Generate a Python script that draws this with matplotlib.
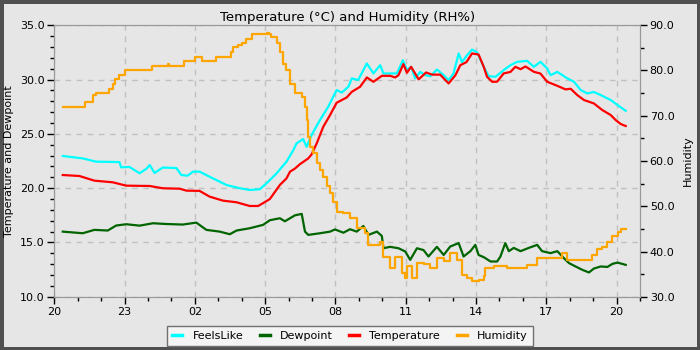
import numpy as np
import matplotlib
matplotlib.use("Agg")
import matplotlib.pyplot as plt
from matplotlib.ticker import MultipleLocator, FixedLocator

# hours since 20:00
hum_t = [0.36, 1.28, 1.30, 1.64, 1.78, 2.32, 2.49, 2.57, 2.78, 3.00, 4.18, 4.85, 4.90,
         5.53, 5.99, 6.32, 6.88, 7.56, 7.63, 7.84, 8.00, 8.17, 8.42, 9.06, 9.16, 9.27,
         9.49, 9.63, 9.77, 9.91, 10.08, 10.27, 10.56, 10.70, 10.77, 10.84, 10.91, 11.05,
         11.20, 11.34, 11.48, 11.63, 11.77, 11.90, 12.05, 12.32, 12.62, 12.91, 13.26,
         13.41, 13.91, 14.05, 14.33, 14.55, 14.84, 14.98, 15.05, 15.26, 15.48, 15.76,
         16.05, 16.33, 16.62, 16.90, 17.19, 17.40, 17.62, 17.83, 18.11, 18.33, 18.40,
         18.76, 19.33, 19.73, 20.18, 20.61, 21.47, 21.68, 21.90, 22.82, 22.97, 23.18,
         23.39, 23.61, 23.82, 24.04, 24.18, 24.39]
humidity = [72.0, 72.0, 73.1, 74.6, 75.1, 76.0, 77.1, 78.2, 79.0, 80.1, 81.0, 81.5, 81.0,
            82.1, 83.0, 82.1, 83.0, 84.1, 85.1, 85.6, 86.0, 86.9, 88.0, 88.3, 88.0, 87.4,
            86.0, 84.1, 81.5, 80.1, 77.1, 75.1, 74.2, 72.0, 69.0, 65.4, 63.2, 61.7,
            59.5, 58.0, 56.5, 54.5, 52.9, 51.0, 48.8, 48.5, 47.4, 45.1, 44.0,
            41.5, 42.2, 38.9, 36.3, 38.9, 35.2, 34.1, 36.7, 34.1, 37.4, 37.2,
            36.3, 38.5, 38.0, 39.6, 38.2, 34.9, 34.1, 33.4, 33.8, 34.5, 36.3,
            36.7, 36.3, 36.3, 37.0, 38.5, 38.5, 39.6, 38.2, 38.2, 39.3, 40.5,
            41.1, 42.2, 43.5, 44.4, 45.0, 45.0]

temp_t = [0.36, 1.07, 1.71, 2.49, 3.07, 4.07, 4.63, 5.35, 5.64, 6.20, 6.63, 7.20, 7.78,
          8.34, 8.70, 8.91, 9.20, 9.63, 9.91, 10.06, 10.27, 10.48, 10.84, 10.98, 11.20,
          11.48, 11.77, 12.05, 12.48, 12.70, 13.05, 13.34, 13.62, 13.98, 14.33, 14.55,
          14.69, 14.90, 15.05, 15.23, 15.55, 15.87, 16.12, 16.47, 16.83, 17.12, 17.33,
          17.59, 17.83, 18.11, 18.33, 18.47, 18.69, 18.90, 19.18, 19.47, 19.68, 19.90,
          20.11, 20.47, 20.75, 21.04, 21.47, 21.82, 22.04, 22.32, 22.61, 23.03, 23.39,
          23.75, 23.96, 24.18, 24.39]
temperature = [21.21, 21.12, 20.69, 20.54, 20.23, 20.20, 19.99, 19.95, 19.77, 19.75, 19.22,
               18.85, 18.70, 18.36, 18.36, 18.62, 19.00, 20.30, 20.90, 21.52, 21.80, 22.20,
               22.74, 23.10, 24.12, 25.65, 26.73, 27.86, 28.35, 28.87, 29.33, 30.19, 29.79,
               30.34, 30.34, 30.19, 30.40, 31.42, 30.62, 31.17, 30.01, 30.65, 30.45, 30.45,
               29.64, 30.40, 31.32, 31.60, 32.40, 32.30, 31.17, 30.25, 29.79, 29.80, 30.56,
               30.70, 31.17, 30.95, 31.20, 30.71, 30.55, 29.79, 29.42, 29.09, 29.15, 28.57,
               28.11, 27.80, 27.19, 26.73, 26.27, 25.90, 25.72]

feels_t = [0.36, 1.21, 1.78, 2.78, 2.85, 3.21, 3.64, 3.94, 4.07, 4.28, 4.63, 5.21, 5.42,
           5.69, 5.92, 6.20, 6.77, 7.35, 7.92, 8.34, 8.77, 9.06, 9.49, 9.91, 10.20, 10.34,
           10.62, 10.77, 10.98, 11.34, 11.69, 12.05, 12.27, 12.55, 12.70, 12.97, 13.34,
           13.62, 13.91, 14.05, 14.33, 14.62, 14.88, 15.05, 15.23, 15.40, 15.62, 15.83,
           16.05, 16.33, 16.62, 16.83, 17.04, 17.26, 17.40, 17.62, 17.83, 18.04, 18.33,
           18.54, 18.83, 19.18, 19.47, 19.76, 20.18, 20.47, 20.75, 21.04, 21.18, 21.47,
           21.90, 22.18, 22.47, 22.75, 23.03, 23.32, 23.75, 24.04, 24.39]
feelslike = [22.96, 22.74, 22.44, 22.40, 21.92, 21.95, 21.37, 21.80, 22.13, 21.40, 21.90,
             21.85, 21.21, 21.15, 21.52, 21.52, 20.90, 20.29, 19.99, 19.83, 19.90, 20.45,
             21.37, 22.44, 23.50, 24.12, 24.52, 23.81, 24.89, 26.27, 27.49, 29.03, 28.80,
             29.33, 30.10, 29.95, 31.48, 30.56, 31.32, 30.56, 30.56, 30.56, 31.78, 30.90,
             31.17, 30.10, 30.70, 30.40, 30.30, 30.92, 30.40, 29.94, 30.56, 32.40, 31.60,
             32.24, 32.76, 32.50, 31.17, 30.31, 30.25, 30.86, 31.32, 31.63, 31.72, 31.17,
             31.63, 31.02, 30.40, 30.70, 30.10, 29.80, 29.03, 28.72, 28.85, 28.57, 28.11,
             27.65, 27.12]

dew_t = [0.36, 1.21, 1.71, 2.28, 2.64, 3.07, 3.64, 4.21, 4.78, 5.49, 6.06, 6.49, 7.06,
         7.49, 7.78, 8.34, 8.91, 9.20, 9.63, 9.84, 10.06, 10.27, 10.56, 10.70, 10.84,
         11.34, 11.77, 11.98, 12.34, 12.62, 12.91, 13.19, 13.41, 13.77, 13.98, 14.05,
         14.33, 14.69, 14.98, 15.19, 15.48, 15.76, 15.97, 16.33, 16.62, 16.90, 17.26,
         17.47, 17.76, 17.97, 18.11, 18.33, 18.62, 18.90, 19.04, 19.25, 19.40, 19.61,
         19.90, 20.25, 20.61, 20.82, 21.18, 21.47, 21.75, 21.97, 22.25, 22.54, 22.82,
         23.03, 23.32, 23.61, 23.82, 24.04, 24.39]
dewpoint = [16.00, 15.85, 16.16, 16.10, 16.56, 16.68, 16.55, 16.77, 16.70, 16.65, 16.83,
            16.16, 16.00, 15.76, 16.10, 16.31, 16.62, 17.05, 17.23, 16.95, 17.23, 17.50,
            17.63, 16.00, 15.70, 15.85, 16.00, 16.20, 15.90, 16.22, 16.00, 16.52, 15.70,
            16.00, 15.60, 14.47, 14.60, 14.47, 14.17, 13.40, 14.47, 14.30, 13.71, 14.60,
            13.85, 14.63, 14.94, 13.71, 14.20, 14.78, 13.85, 13.65, 13.25, 13.25, 13.70,
            14.94, 14.20, 14.50, 14.20, 14.50, 14.78, 14.20, 14.02, 14.20, 13.56, 13.10,
            12.79, 12.48, 12.24, 12.60, 12.79, 12.75, 13.03, 13.15, 12.94]

tick_pos = [0, 3, 6, 9, 12, 15, 18, 21, 24]
tick_labels = ["20", "23", "02", "05", "08", "11", "14", "17", "20"]

BG = "#e6e6e6"
fig = plt.figure(figsize=(7, 3.5), dpi=100, facecolor=BG)
fig.patch.set_edgecolor("#505050")
fig.patch.set_linewidth(5)
ax = fig.add_axes([0.0776, 0.152, 0.9143 - 0.0776, 0.928 - 0.152])
ax.set_facecolor(BG)
ax2 = ax.twinx()

l1, = ax.plot(feels_t, feelslike, color="#00ffff", lw=1.6, label="FeelsLike")
l2, = ax.plot(dew_t, dewpoint, color="#006400", lw=1.6, label="Dewpoint")
l3, = ax.plot(temp_t, temperature, color="#ff0000", lw=1.6, label="Temperature")
l4, = ax2.plot(hum_t, humidity, color="#ffa500", lw=1.6, drawstyle="steps-post", label="Humidity")

ax.set_xlim(0, 25)
ax.set_ylim(10, 35)
ax2.set_ylim(30, 90)
ax.xaxis.set_major_locator(FixedLocator(tick_pos))
ax.set_xticklabels(tick_labels)
ax.xaxis.set_minor_locator(MultipleLocator(1))
ax.yaxis.set_major_locator(MultipleLocator(5))
ax.yaxis.set_minor_locator(MultipleLocator(1))
ax.yaxis.set_major_formatter(lambda v, p: f"{v:.1f}")
ax2.yaxis.set_major_locator(MultipleLocator(10))
ax2.yaxis.set_minor_locator(MultipleLocator(5))
ax2.yaxis.set_major_formatter(lambda v, p: f"{v:.1f}")

for a in (ax, ax2):
    for s in a.spines.values():
        s.set_color("#999999")
    a.tick_params(which="major", length=5, width=1, color="black", labelsize=8, pad=2)
    a.tick_params(which="minor", length=3, width=1, color="black")

ax.grid(True, which="major", color="#c0c0c0", linestyle=(0, (4, 4)), lw=1)
ax.set_ylabel("Temperature and Dewpoint", fontsize=8, labelpad=4)
ax2.set_ylabel("Humidity", fontsize=8, labelpad=6)
ax.set_title("Temperature (°C) and Humidity (RH%)", fontsize=9.5, pad=3)

leg = fig.legend(handles=[l1, l2, l3, l4], loc="lower center", bbox_to_anchor=(0.5, 0.003),
                 ncol=4, fontsize=8, handlelength=0.9, handletextpad=0.9, columnspacing=1.5,
                 fancybox=False, frameon=True, borderpad=0.45, borderaxespad=0.3)
leg.get_frame().set_edgecolor("#707070")
leg.get_frame().set_facecolor("#f4f4f4")
leg.get_frame().set_alpha(1)
for h in leg.get_lines():
    h.set_linewidth(2.5)

fig.savefig("out.png", dpi=100, facecolor=BG, edgecolor=fig.get_edgecolor())
